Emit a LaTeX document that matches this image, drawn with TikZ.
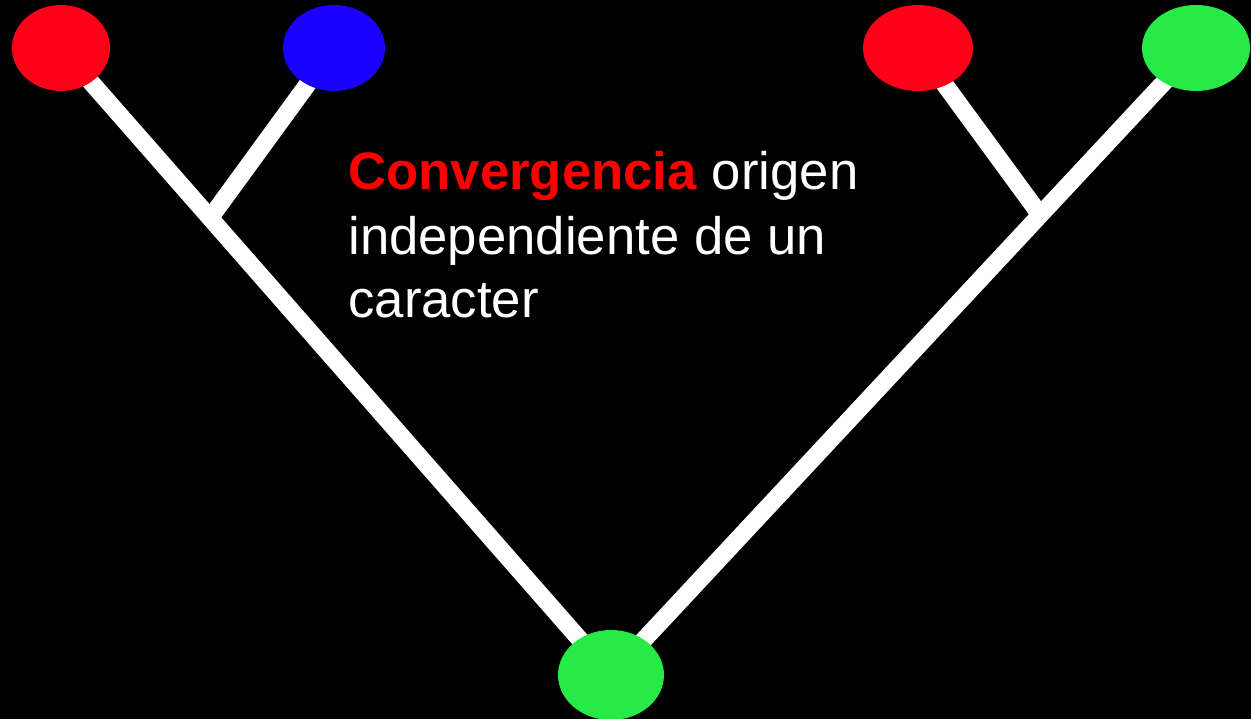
\documentclass[tikz,border=0pt]{standalone}
\usepackage{fontspec}
\setmainfont{Liberation Sans}
\usetikzlibrary{shapes.geometric,calc}
\definecolor{tred}{RGB}{255,0,25}
\definecolor{tblue}{RGB}{25,0,255}
\definecolor{tgreen}{RGB}{40,234,70}
\definecolor{redtxt}{RGB}{255,0,0}
\begin{document}
\begin{tikzpicture}[x=0.02cm,y=-0.02cm,
  taxon/.style={ellipse,inner sep=0pt,draw=none},
  branch/.style={draw=white,line width=0.35cm},
  lbl/.style={anchor=base west,inner sep=0pt,text=white,font=\fontsize{30}{36}\selectfont}]
\fill[black] (0,0) rectangle (1251,719);
\useasboundingbox (0,0) rectangle (1251,719);
% node positions
\coordinate (plred) at (61,48);
\coordinate (pblue) at (334,48);
\coordinate (prred) at (918,48);
\coordinate (prgreen) at (1196,48);
\coordinate (pbot) at (611,675);
\coordinate (jL) at ($(plred)!0.2711!(pbot)$);
\coordinate (jR) at ($(prgreen)!0.2663!(pbot)$);
% branches
\draw[branch] (plred) -- (pbot);
\draw[branch] (prgreen) -- (pbot);
\draw[branch] (pblue) -- (jL);
\draw[branch] (prred) -- (jR);
% taxa
\node[taxon,fill=tred,minimum width=1.96cm,minimum height=1.72cm] (lred) at (plred) {};
\node[taxon,fill=tblue,minimum width=2.04cm,minimum height=1.72cm] (blue) at (pblue) {};
\node[taxon,fill=tred,minimum width=2.2cm,minimum height=1.72cm] (rred) at (prred) {};
\node[taxon,fill=tgreen,minimum width=2.16cm,minimum height=1.72cm] (rgreen) at (prgreen) {};
\node[taxon,fill=tgreen,minimum width=2.12cm,minimum height=1.8cm] (bot) at (pbot) {};
% text
\node[lbl] (t1) at (348,190) {\textcolor{redtxt}{\textbf{Convergencia}} origen};
\node[lbl] (t2) at (348,255) {independiente de un};
\node[lbl] (t3) at (348,318) {caracter};
\end{tikzpicture}
\end{document}
